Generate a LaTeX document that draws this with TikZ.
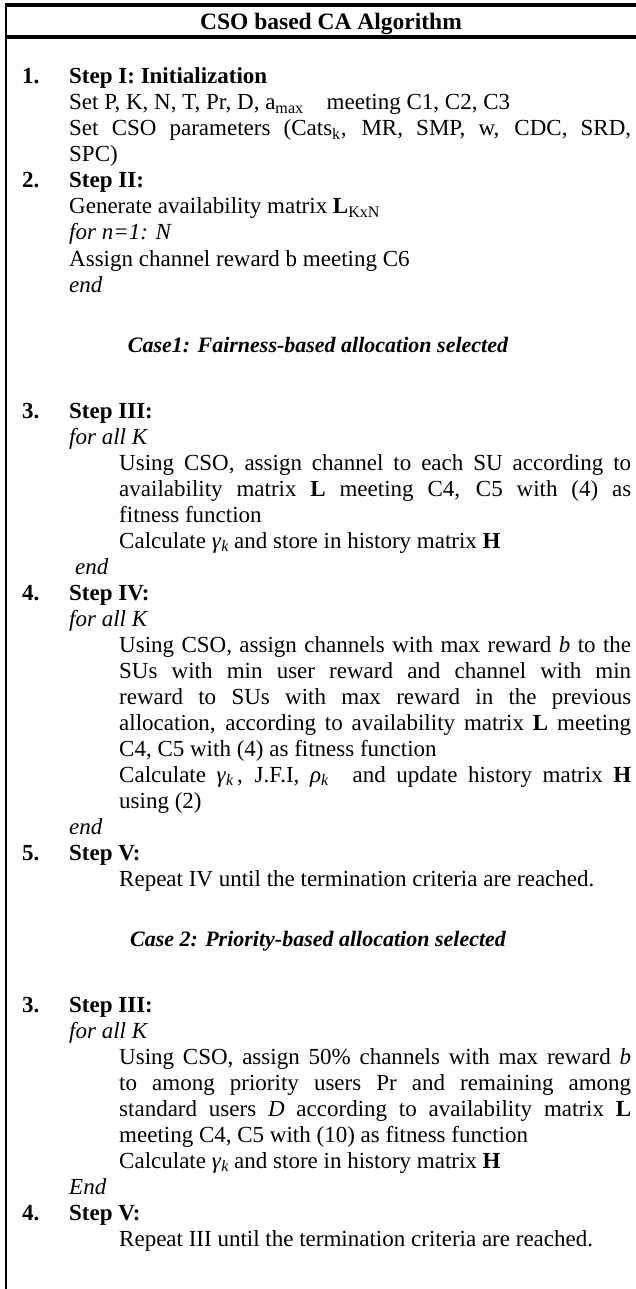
\documentclass[tikz,border=0pt]{standalone}
\usepackage{fontspec}
\setmainfont{Liberation Serif}
\newcommand{\jst}[2]{\makebox[#1pt][s]{#2}}
\newcommand{\gk}{\textit{γ}\raisebox{-0.35ex}{\fontsize{16}{16}\selectfont\itshape k}}
\newcommand{\rk}{\textit{ρ}\raisebox{-0.35ex}{\fontsize{16}{16}\selectfont\itshape k}}
\begin{document}
\begin{tikzpicture}[x=1pt,y=-1pt,
  txt/.style={anchor=base west,inner sep=0pt,font=\fontsize{23}{26}\selectfont},
  num/.style={anchor=base west,inner sep=0pt,font=\fontsize{23}{26}\selectfont\bfseries},
  head/.style={anchor=base,inner sep=0pt,font=\fontsize{22}{26}\selectfont\bfseries\itshape},
  ttl/.style={anchor=base,inner sep=0pt,font=\fontsize{23.5}{26}\selectfont\bfseries},
  rule/.style={line width=3.4pt},
  side/.style={line width=2.6pt}]
\useasboundingbox (0,0) rectangle (636,1289);
% frame
\draw[rule] (6,5) -- (636,5);
\draw[rule] (6,37) -- (636,37);
\draw[side] (6,3.3) -- (6,1289);
\node[ttl] (title) at (331,30) {CSO based CA Algorithm};
% Step I
\node[num] (n1) at (22,84) {1.};
\node[num] (a1) at (69,84) {Step I: Initialization};
\node[txt] (a2) at (69,110) {Set P, K, N, T, Pr, D, a\textsubscript{max}\hspace{1em}meeting C1, C2, C3};
\node[txt] (a3) at (69,136) {\jst{562}{Set CSO parameters (Cats\textsubscript{k}, MR, SMP, w, CDC, SRD,}};
\node[txt] (a4) at (69,162) {SPC)};
% Step II
\node[num] (n2) at (22,188) {2.};
\node[num] (b1) at (69,188) {Step II:};
\node[txt] (b2) at (69,214) {Generate availability matrix \textbf{L}\textsubscript{KxN}};
\node[txt] (b3) at (69,240) {\itshape for n=1: N};
\node[txt] (b4) at (69,266) {Assign channel reward b meeting C6};
\node[txt] (b5) at (69,292) {\itshape end};
% Case 1
\node[head] (case1) at (318,352) {Case1: Fairness-based allocation selected};
\node[num] (n3) at (22,418) {3.};
\node[num] (c1) at (69,418) {Step III:};
\node[txt] (c2) at (69,444) {\itshape for all K};
\node[txt] (c3) at (119,470) {\jst{512}{Using CSO, assign channel to each SU according to}};
\node[txt] (c4) at (119,496) {\jst{512}{availability matrix \textbf{L} meeting C4, C5 with (4) as}};
\node[txt] (c5) at (119,522) {fitness function};
\node[txt] (c6) at (119,548) {Calculate \gk{} and store in history matrix \textbf{H}};
\node[txt] (c7) at (75,574) {\itshape end};
\node[num] (n4) at (22,600) {4.};
\node[num] (d1) at (69,600) {Step IV:};
\node[txt] (d2) at (69,626) {\itshape for all K};
\node[txt] (d3) at (119,652) {\jst{512}{Using CSO, assign channels with max reward \textit{b} to the}};
\node[txt] (d4) at (119,678) {\jst{512}{SUs with min user reward and channel with min}};
\node[txt] (d5) at (119,704) {\jst{512}{reward to SUs with max reward in the previous}};
\node[txt] (d6) at (119,730) {\jst{512}{allocation, according to availability matrix \textbf{L} meeting}};
\node[txt] (d7) at (119,756) {C4, C5 with (4) as fitness function};
\node[txt] (d8) at (119,782) {\jst{512}{Calculate \gk\,, J.F.I, \rk\hspace{0.6em} and update history matrix \textbf{H}}};
\node[txt] (d9) at (119,808) {using (2)};
\node[txt] (d10) at (69,834) {\itshape end};
\node[num] (n5) at (22,860) {5.};
\node[num] (e1) at (69,860) {Step V:};
\node[txt] (e2) at (119,886) {Repeat IV until the termination criteria are reached.};
% Case 2
\node[head] (case2) at (318,946) {Case 2: Priority-based allocation selected};
\node[num] (n6) at (22,1012) {3.};
\node[num] (f1) at (69,1012) {Step III:};
\node[txt] (f2) at (69,1038) {\itshape for all K};
\node[txt] (f3) at (119,1064) {\jst{512}{Using CSO, assign 50\% channels with max reward \textit{b}}};
\node[txt] (f4) at (119,1090) {\jst{512}{to among priority users Pr and remaining among}};
\node[txt] (f5) at (119,1116) {\jst{512}{standard users \textit{D} according to availability matrix \textbf{L}}};
\node[txt] (f6) at (119,1142) {meeting C4, C5 with (10) as fitness function};
\node[txt] (f7) at (119,1168) {Calculate \gk{} and store in history matrix \textbf{H}};
\node[txt] (f8) at (69,1194) {\itshape End};
\node[num] (n7) at (22,1220) {4.};
\node[num] (g1) at (69,1220) {Step V:};
\node[txt] (g2) at (119,1246) {Repeat III until the termination criteria are reached.};
\end{tikzpicture}
\end{document}
